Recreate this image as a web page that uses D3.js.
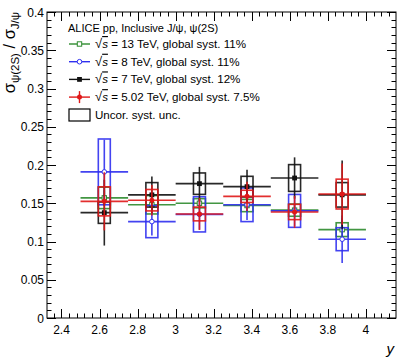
<!DOCTYPE html>
<html><head><meta charset="utf-8">
<script src="https://cdn.jsdelivr.net/npm/d3@7"></script>
<style>body{margin:0;background:#fff}svg{display:block;font-family:"Liberation Sans",Arial,sans-serif}</style>
</head><body><svg id="c" width="407" height="363"></svg>
<script>
const rapidity = [2.625, 2.875, 3.125, 3.375, 3.625, 3.875];
const binHalf = 0.125;
const xTicks = [2.4, 2.6, 2.8, 3, 3.2, 3.4, 3.6, 3.8, 4];
const yTicks = [0, 0.05, 0.1, 0.15, 0.2, 0.25, 0.3, 0.35, 0.4];

const v13 = [0.157, 0.148, 0.150, 0.147, 0.141, 0.1155];
const stat13 = [0.010, 0.008, 0.008, 0.008, 0.008, 0.015];
const syst13 = [0.014, 0.012, 0.006, 0.008, 0.008, 0.009];

const v8 = [0.191, 0.126, 0.1355, 0.148, 0.140, 0.103];
const stat8 = [0.042, 0.018, 0.020, 0.020, 0.020, 0.031];
const syst8 = [0.043, 0.021, 0.023, 0.022, 0.0215, 0.015];

const v7 = [0.1377, 0.161, 0.1756, 0.1717, 0.183, 0.161];
const stat7 = [0.043, 0.024, 0.022, 0.022, 0.027, 0.045];
const syst7 = [0.014, 0.016, 0.014, 0.0135, 0.0175, 0.016];

const v5 = [0.1525, 0.154, 0.136, 0.159, 0.1386, 0.162];
const stat5 = [0.038, 0.020, 0.021, 0.019, 0.021, 0.040];
const syst5 = [0.019, 0.014, 0.009, 0.008, 0.010, 0.0195];

const seriesNames = ["13 TeV, global syst. 11%", "8 TeV, global syst. 11%", "7 TeV, global syst. 12%", "5.02 TeV, global syst. 7.5%"];
const series = [
  {name: seriesNames[0], v: v13, stat: stat13, syst: syst13, color: "#2e8b2e", marker: "openSquare"},
  {name: seriesNames[1], v: v8, stat: stat8, syst: syst8, color: "#2f2fef", marker: "openCircle"},
  {name: seriesNames[2], v: v7, stat: stat7, syst: syst7, color: "#111111", marker: "fullSquare"},
  {name: seriesNames[3], v: v5, stat: stat5, syst: syst5, color: "#e01818", marker: "fullCircle"}
];

const svg = d3.select("#c");
const L = 47, R = 396, T = 12, B = 318;
const x = d3.scaleLinear().domain([2.3238, 4.158]).range([L, R]);
const y = d3.scaleLinear().domain([0, 0.4]).range([B, T]);
const boxHalf = 0.0315;

svg.append("rect").attr("x", L).attr("y", T).attr("width", R - L).attr("height", B - T)
  .attr("fill", "none").attr("stroke", "#000").attr("stroke-width", 1);

const xMinor = d3.range(2.36, 4.16, 0.04).filter(v => v >= 2.3238 && v <= 4.158);
const yMinor = d3.range(0, 0.4001, 0.01);
const tg = svg.append("g").attr("stroke", "#000").attr("stroke-width", 1);
xMinor.forEach(v => {
  const isMajor = xTicks.some(t => Math.abs(t - v) < 1e-6);
  const len = isMajor ? 9 : 4.5;
  const px = Math.round(x(v)) + 0.5;
  tg.append("line").attr("x1", px).attr("x2", px).attr("y1", B).attr("y2", B - len);
  tg.append("line").attr("x1", px).attr("x2", px).attr("y1", T).attr("y2", T + len);
});
yMinor.forEach(v => {
  const isMajor = yTicks.some(t => Math.abs(t - v) < 1e-6);
  const len = isMajor ? 9 : 4.5;
  const py = Math.round(y(v)) + 0.5;
  tg.append("line").attr("y1", py).attr("y2", py).attr("x1", L).attr("x2", L + len);
  tg.append("line").attr("y1", py).attr("y2", py).attr("x1", R).attr("x2", R - len);
});

svg.append("g").selectAll("text").data(xTicks).join("text")
  .attr("x", d => x(d)).attr("y", 334).attr("text-anchor", "middle")
  .attr("font-size", 12).text(d => d3.format("~g")(d));
svg.append("g").selectAll("text").data(yTicks).join("text")
  .attr("x", 44).attr("y", d => y(d) + 4.5).attr("text-anchor", "end")
  .attr("font-size", 12).text(d => d3.format("~g")(d));

svg.append("text").attr("x", 394).attr("y", 354).attr("text-anchor", "end")
  .attr("font-size", 15).attr("font-style", "italic").text("y");
const yt = svg.append("text").attr("transform", "translate(15,12) rotate(-90)")
  .attr("text-anchor", "end").attr("font-size", 16.5);
yt.append("tspan").text("σ");
yt.append("tspan").attr("font-size", 11.5).attr("dy", 4).text("ψ(2S)");
yt.append("tspan").attr("dy", -4).text(" / σ");
yt.append("tspan").attr("font-size", 11.5).attr("dy", 4).text("J/ψ");

const plot = svg.append("g");
function drawMarker(g, type, cx, cy, color) {
  if (type === "openSquare") g.append("rect").attr("x", cx - 2.2).attr("y", cy - 2.2).attr("width", 4.4).attr("height", 4.4).attr("fill", "#fff").attr("stroke", color).attr("stroke-width", 1);
  else if (type === "openCircle") g.append("circle").attr("cx", cx).attr("cy", cy).attr("r", 2.3).attr("fill", "#fff").attr("stroke", color).attr("stroke-width", 1);
  else if (type === "fullSquare") g.append("rect").attr("x", cx - 2.4).attr("y", cy - 2.4).attr("width", 4.8).attr("height", 4.8).attr("fill", color);
  else g.append("circle").attr("cx", cx).attr("cy", cy).attr("r", 2.5).attr("fill", color);
}
series.forEach(s => {
  const g = plot.append("g");
  rapidity.forEach((r, i) => {
    const val = s.v[i];
    g.append("rect").attr("x", x(r - boxHalf)).attr("y", y(val + s.syst[i]))
      .attr("width", x(r + boxHalf) - x(r - boxHalf)).attr("height", y(val - s.syst[i]) - y(val + s.syst[i]))
      .attr("fill", "none").attr("stroke", s.color).attr("stroke-width", 1.6).attr("opacity", 0.9);
    g.append("line").attr("x1", x(r - binHalf)).attr("x2", x(r + binHalf)).attr("y1", y(val)).attr("y2", y(val))
      .attr("stroke", s.color).attr("stroke-width", 1.6).attr("opacity", 0.9);
    g.append("line").attr("x1", x(r)).attr("x2", x(r)).attr("y1", y(val + s.stat[i])).attr("y2", y(val - s.stat[i]))
      .attr("stroke", s.color).attr("stroke-width", 1.6).attr("opacity", 0.9);
  });
  rapidity.forEach((r, i) => drawMarker(g, s.marker, x(r), y(s.v[i]), s.color));
});

const lg = svg.append("g").attr("font-size", 11);
lg.append("text").attr("x", 68).attr("y", 32).text("ALICE pp, Inclusive J/ψ, ψ(2S)");
series.forEach((s, i) => {
  const cy = 44 + i * 17.7;
  lg.append("line").attr("x1", 69).attr("x2", 90).attr("y1", cy).attr("y2", cy).attr("stroke", s.color).attr("stroke-width", 1.4);
  if (s.marker === "fullCircle") lg.append("line").attr("x1", 79.5).attr("x2", 79.5).attr("y1", cy - 6).attr("y2", cy + 6).attr("stroke", s.color).attr("stroke-width", 1.4);
  drawMarker(lg, s.marker, 79.5, cy, s.color);
  const t = lg.append("text").attr("x", 95).attr("y", cy + 4).attr("font-size", 11.6);
  t.append("tspan").attr("font-size", 13).text("√");
  t.append("tspan").attr("font-style", "italic").attr("text-decoration", "overline").text("s");
  t.append("tspan").text(" = " + s.name);
});
lg.append("rect").attr("x", 69).attr("y", 109).attr("width", 21).attr("height", 12).attr("fill", "none").attr("stroke", "#000").attr("stroke-width", 1.2);
lg.append("text").attr("x", 95).attr("y", 119).attr("font-size", 11.6).text("Uncor. syst. unc.");
</script></body></html>
